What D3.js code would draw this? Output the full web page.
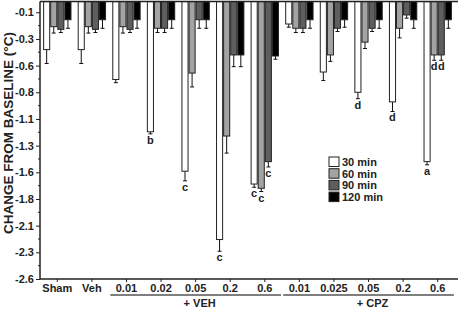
<!DOCTYPE html>
<html><head><meta charset="utf-8">
<script src="https://cdn.jsdelivr.net/npm/d3@7"></script>
<style>body{margin:0;background:#fff}svg{display:block}text{font-family:"Liberation Sans",Arial,sans-serif;font-weight:bold;fill:#222}</style>
</head><body><svg id="c" width="458" height="309"></svg>
<script>
const categories = ["Sham","Veh","0.01","0.02","0.05","0.2","0.6","0.01","0.025","0.05","0.2","0.6"];
const seriesNames = ["30 min","60 min","90 min","120 min"];
const seriesColors = ["#ffffff","#a3a3a3","#5e5e5e","#000000"];
const min30  = [-0.45,-0.45,-0.73,-1.22,-1.59,-2.23,-1.71,-0.21,-0.66,-0.85,-0.94,-1.50];
const err30  = [0.13,0.13,0.03,0.02,0.09,0.11,0.03,0.03,0.08,0.06,0.09,0.03];
const min60  = [-0.235,-0.235,-0.235,-0.25,-0.67,-1.26,-1.75,-0.25,-0.50,-0.38,-0.25,-0.50];
const err60  = [0.06,0.06,0.06,0.04,0.13,0.16,0.03,0.04,0.06,0.06,0.09,0.05];
const min90  = [-0.26,-0.26,-0.26,-0.25,-0.17,-0.50,-1.50,-0.25,-0.25,-0.25,-0.125,-0.50];
const err90  = [0.03,0.03,0.03,0.04,0.08,0.11,0.05,0.04,0.03,0.03,0.03,0.05];
const min120 = [-0.17,-0.17,-0.17,-0.17,-0.17,-0.50,-0.51,-0.17,-0.17,-0.17,-0.17,-0.17];
const err120 = [0.08,0.08,0.08,0.08,0.08,0.11,0.03,0.08,0.07,0.08,0.08,0.08];
const yTickValues = [-0.1,-0.35,-0.6,-0.85,-1.1,-1.35,-1.6,-1.85,-2.1,-2.35,-2.6];
const yTickLabels = ["-0.1","-0.3","-0.6","-0.8","-1.1","-1.3","-1.6","-1.8","-2.1","-2.3","-2.6"];
const groupLabels = [{name:"+ VEH", from:2, to:6},{name:"+ CPZ", from:7, to:11}];
const annotations = [
  {g:3,s:0,t:"b"},{g:4,s:0,t:"c"},{g:5,s:0,t:"c"},
  {g:6,s:0,t:"c"},{g:6,s:1,t:"c"},{g:6,s:2,t:"c"},
  {g:9,s:0,t:"d"},{g:10,s:0,t:"d"},
  {g:11,s:0,t:"a"},{g:11,s:1,t:"d"},{g:11,s:2,t:"d"}
];
const values = [min30,min60,min90,min120];
const errors = [err30,err60,err90,err120];

(function(){
const svg = d3.select("#c");
const pL = 40, pR = 455, pT = 1.6, pB = 279;
const x0 = d3.scaleBand().domain(d3.range(categories.length)).range([pL,pR]).paddingInner(0.18).paddingOuter(0.09);
const x1 = d3.scaleBand().domain(d3.range(4)).range([0,x0.bandwidth()]);
const y = d3.scaleLinear().domain([0,-2.6]).range([pT,pB]);

// bars
categories.forEach((c,gi)=>{
  const g = svg.append("g").attr("transform",`translate(${x0(gi)},0)`);
  values.forEach((vals,si)=>{
    const v = vals[gi], e = errors[si][gi];
    const bx = x1(si), bw = x1.bandwidth();
    const cx = bx + bw/2;
    g.append("line").attr("x1",cx).attr("x2",cx).attr("y1",y(v)).attr("y2",y(v-e)).attr("stroke","#111").attr("stroke-width",1);
    g.append("line").attr("x1",cx-2).attr("x2",cx+2).attr("y1",y(v-e)).attr("y2",y(v-e)).attr("stroke","#111").attr("stroke-width",1);
    g.append("rect").attr("x",bx+0.5).attr("y",y(0)).attr("width",bw-1).attr("height",y(v)-y(0))
      .attr("fill",seriesColors[si]).attr("stroke","#222").attr("stroke-width",1);
  });
});

// annotations
annotations.forEach(a=>{
  const v = values[a.s][a.g], e = errors[a.s][a.g];
  svg.append("text").attr("x",x0(a.g)+x1(a.s)+x1.bandwidth()/2).attr("y",y(v-e)+10)
    .attr("text-anchor","middle").attr("font-size",11).text(a.t);
});

// top line at zero
svg.append("line").attr("x1",pL).attr("x2",458).attr("y1",y(0)).attr("y2",y(0)).attr("stroke","#222").attr("stroke-width",1.5);

// y axis
const yAxis = d3.axisLeft(y).tickValues(yTickValues).tickSize(4).tickFormat((d,i)=>yTickLabels[i]);
const ya = svg.append("g").attr("transform",`translate(${pL},0)`).call(yAxis);
ya.select(".domain").attr("stroke","#222").attr("stroke-width",1.5).attr("d",`M0,${y(0)}V${pB}`);
ya.selectAll(".tick line").attr("stroke","#222");
ya.selectAll(".tick text").attr("font-size",11).attr("font-family",null).attr("fill","#222").attr("x",-6);
const minor = yTickValues.slice(0,-1).map(v=>v-0.125);
svg.append("g").selectAll("line").data(minor).join("line")
  .attr("x1",pL-2).attr("x2",pL).attr("y1",d=>y(d)).attr("y2",d=>y(d)).attr("stroke","#222");

// x axis
const xAxis = d3.axisBottom(x0).tickSize(3).tickFormat(i=>categories[i]);
const xa = svg.append("g").attr("transform",`translate(0,${pB})`).call(xAxis);
xa.select(".domain").attr("stroke","#222").attr("stroke-width",1.5).attr("d",`M${pL},0H458`);
xa.selectAll(".tick line").attr("stroke","#222");
xa.selectAll(".tick text").attr("font-size",11).attr("font-family",null).attr("fill","#222").attr("y",5);

// group labels
groupLabels.forEach(gl=>{
  const a = x0(gl.from)-2, b = x0(gl.to)+x0.bandwidth()+2;
  svg.append("line").attr("x1",a).attr("x2",b).attr("y1",295).attr("y2",295).attr("stroke","#555").attr("stroke-width",1.5);
  svg.append("text").attr("x",(a+b)/2+4).attr("y",307).attr("text-anchor","middle").attr("font-size",11).text(gl.name);
});

// y title
svg.append("text").attr("transform","translate(12.5,133) rotate(-90)").attr("text-anchor","middle")
  .attr("font-size",13.5).text("CHANGE FROM BASELINE (°C)");

// legend
const lg = svg.append("g").attr("transform","translate(329,157)");
seriesNames.forEach((n,i)=>{
  lg.append("rect").attr("x",0).attr("y",i*11.7).attr("width",10).attr("height",9.5)
    .attr("fill",seriesColors[i]).attr("stroke","#222");
  lg.append("text").attr("x",13).attr("y",i*11.7+9).attr("font-size",11).text(n);
});
})();
</script></body></html>
